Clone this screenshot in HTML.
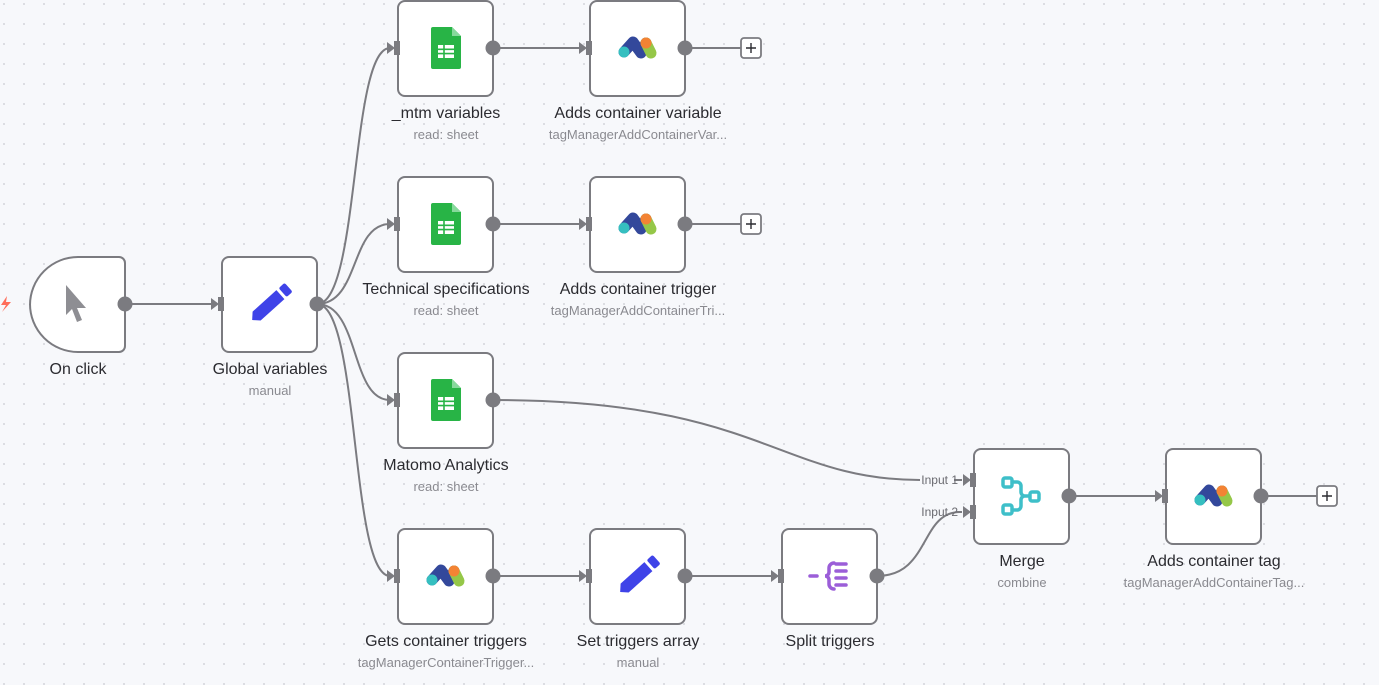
<!DOCTYPE html>
<html><head><meta charset="utf-8"><style>
html,body{margin:0;padding:0;background:#f7f8fb;}
svg{display:block;font-family:"Liberation Sans",Arial,sans-serif;}
.t{font-size:16px;fill:#2b2b30;text-anchor:middle;}
.s{font-size:13px;fill:#8a8a90;text-anchor:middle;}
.box{fill:#fff;stroke:#7b7b80;stroke-width:2;}
.e{fill:none;stroke:#7b7b80;stroke-width:2;}
.h{fill:#7b7b80;}
</style></head><body>
<svg width="1379" height="685" viewBox="0 0 1379 685">
<defs>
<pattern id="dots" width="20" height="20" patternUnits="userSpaceOnUse" x="3" y="3">
<circle cx="1" cy="1" r="1" fill="#d4d5db"/></pattern>
<g id="mat">
<path d="M-13,4 L-4,-6 L4,5 L9,-5" fill="none" stroke="#33489b" stroke-width="11" stroke-linecap="round" stroke-linejoin="round"/>
<path d="M9,-5 L14,5" fill="none" stroke="#95c748" stroke-width="11" stroke-linecap="round"/>
<circle cx="9" cy="-5" r="5.5" fill="#f38334"/>
<circle cx="-13" cy="4" r="5.5" fill="#35bfc0"/>
</g>
<g id="sheet">
<path d="M-15,-21 H6 L15,-12 V19 a2,2 0 0 1 -2,2 H-13 a2,2 0 0 1 -2,-2 V-19 a2,2 0 0 1 2,-2z" fill="#28b446"/>
<path d="M6,-21 L15,-12 H6z" fill="#87d99c"/>
<rect x="-8" y="-3" width="16" height="13" fill="#fff"/>
<path d="M-8,1.3 H8 M-8,5.6 H8 M-2,-3 V10" stroke="#28b446" stroke-width="1.6"/>
</g>
<g id="pencil">
<g transform="rotate(-42)">
<path d="M-24,0 L-18,-6 H14 V6 H-18 Z" fill="#3f43e8"/>
<rect x="17" y="-6" width="8" height="12" rx="2" fill="#3f43e8"/>
</g>
</g>
<g id="in"><path d="M-11,-6 L-3,0 L-11,6z" class="h"/><rect x="-4" y="-7" width="6" height="14" class="h"/></g>
</defs>
<rect width="1379" height="685" fill="#f7f8fb"/>
<rect width="1379" height="685" fill="url(#dots)"/>

<!-- edges -->
<path class="e" d="M125,304 H214"/>
<path class="e" d="M317,304 C360,304 350,48 390,48"/>
<path class="e" d="M317,304 C360,304 350,224 390,224"/>
<path class="e" d="M317,304 C360,304 350,400 390,400"/>
<path class="e" d="M317,304 C360,304 350,576 390,576"/>
<path class="e" d="M493,48 H582 M685,48 H741"/>
<path class="e" d="M493,224 H582 M685,224 H741"/>
<path class="e" d="M493,576 H582 M685,576 H774"/>
<path class="e" d="M493,400 C760,400 780,480 920,480"/>
<path class="e" d="M877,576 C930,576 920,512 960,512"/>
<path class="e" d="M954,480 H962 M956,512 H962"/>
<path class="e" d="M1069,496 H1158 M1261,496 H1317"/>

<!-- trigger bolt -->
<path d="M7,296 L1,305 H6 L2,312 L11,302 H6z" fill="#ff6d5a"/>

<!-- On click -->
<path class="box" d="M78,257 H119 a6,6 0 0 1 6,6 V346 a6,6 0 0 1 -6,6 H78 a48,48 0 0 1 -48,-48 V305 a48,48 0 0 1 48,-48z"/>
<path d="M66,285 L66,315 L72,309 L77,322 L82,320 L77,308 L86,308z" fill="#8e8e93"/>
<circle cx="125" cy="304" r="7.5" class="h"/>
<text class="t" x="78" y="374">On click</text>

<!-- Global variables -->
<rect class="box" x="222" y="257" width="95" height="95" rx="7"/>
<use href="#in" x="222" y="304"/>
<use href="#pencil" x="270" y="304"/>
<circle cx="317" cy="304" r="7.5" class="h"/>
<text class="t" x="270" y="374">Global variables</text>
<text class="s" x="270" y="395">manual</text>

<!-- col2 sheets -->
<rect class="box" x="398" y="1" width="95" height="95" rx="7"/>
<use href="#in" x="398" y="48"/><use href="#sheet" x="446" y="48"/>
<circle cx="493" cy="48" r="7.5" class="h"/>
<text class="t" x="446" y="118">_mtm variables</text>
<text class="s" x="446" y="139">read: sheet</text>

<rect class="box" x="398" y="177" width="95" height="95" rx="7"/>
<use href="#in" x="398" y="224"/><use href="#sheet" x="446" y="224"/>
<circle cx="493" cy="224" r="7.5" class="h"/>
<text class="t" x="446" y="294">Technical specifications</text>
<text class="s" x="446" y="315">read: sheet</text>

<rect class="box" x="398" y="353" width="95" height="95" rx="7"/>
<use href="#in" x="398" y="400"/><use href="#sheet" x="446" y="400"/>
<circle cx="493" cy="400" r="7.5" class="h"/>
<text class="t" x="446" y="470">Matomo Analytics</text>
<text class="s" x="446" y="491">read: sheet</text>

<rect class="box" x="398" y="529" width="95" height="95" rx="7"/>
<use href="#in" x="398" y="576"/><use href="#mat" x="445" y="576"/>
<circle cx="493" cy="576" r="7.5" class="h"/>
<text class="t" x="446" y="646">Gets container triggers</text>
<text class="s" x="446" y="667">tagManagerContainerTrigger...</text>

<!-- col3 -->
<rect class="box" x="590" y="1" width="95" height="95" rx="7"/>
<use href="#in" x="590" y="48"/><use href="#mat" x="637" y="48"/>
<circle cx="685" cy="48" r="7.5" class="h"/>
<text class="t" x="638" y="118">Adds container variable</text>
<text class="s" x="638" y="139">tagManagerAddContainerVar...</text>

<rect class="box" x="590" y="177" width="95" height="95" rx="7"/>
<use href="#in" x="590" y="224"/><use href="#mat" x="637" y="224"/>
<circle cx="685" cy="224" r="7.5" class="h"/>
<text class="t" x="638" y="294">Adds container trigger</text>
<text class="s" x="638" y="315">tagManagerAddContainerTri...</text>

<rect class="box" x="590" y="529" width="95" height="95" rx="7"/>
<use href="#in" x="590" y="576"/><use href="#pencil" x="638" y="576"/>
<circle cx="685" cy="576" r="7.5" class="h"/>
<text class="t" x="638" y="646">Set triggers array</text>
<text class="s" x="638" y="667">manual</text>

<!-- plus buttons -->
<g fill="#fff" stroke="#7b7b80" stroke-width="1.8">
<rect x="741" y="38" width="20" height="20" rx="3"/>
<rect x="741" y="214" width="20" height="20" rx="3"/>
<rect x="1317" y="486" width="20" height="20" rx="3"/>
</g>
<path d="M746,48 H756 M751,43 V53 M746,224 H756 M751,219 V229 M1322,496 H1332 M1327,491 V501" stroke="#2b2b30" stroke-width="1.4"/>

<!-- Split -->
<rect class="box" x="782" y="529" width="95" height="95" rx="7"/>
<use href="#in" x="782" y="576"/>
<g fill="none" stroke="#9b5ed8" stroke-width="3.5" stroke-linecap="round">
<path d="M810,576 H817"/>
<path d="M834,563 a5,5 0 0 0 -5,5 v4 a4,4 0 0 1 -4,4 a4,4 0 0 1 4,4 v4 a5,5 0 0 0 5,5"/>
<path d="M836,564 H846 M836,571 H846 M836,578 H846 M836,585 H846"/>
</g>
<circle cx="877" cy="576" r="7.5" class="h"/>
<text class="t" x="830" y="646">Split triggers</text>

<!-- Merge -->
<rect class="box" x="974" y="449" width="95" height="95" rx="7"/>
<use href="#in" x="974" y="480"/><use href="#in" x="974" y="512"/>
<text x="958" y="484" font-size="12" fill="#6a6a70" text-anchor="end">Input 1</text>
<text x="958" y="516" font-size="12" fill="#6a6a70" text-anchor="end">Input 2</text>
<g fill="none" stroke="#3ebfc9" stroke-width="3.5">
<rect x="1003" y="478" width="9" height="9" rx="2"/>
<rect x="1003" y="505" width="9" height="9" rx="2"/>
<rect x="1030" y="492" width="9" height="9" rx="2"/>
<path d="M1012,482 h5 a4,4 0 0 1 4,4 v6 a4,4 0 0 0 4,4 h5 M1012,510 h5 a4,4 0 0 0 4,-4 v-6 a4,4 0 0 1 4,-4"/>
</g>
<circle cx="1069" cy="496" r="7.5" class="h"/>
<text class="t" x="1022" y="566">Merge</text>
<text class="s" x="1022" y="587">combine</text>

<!-- Adds container tag -->
<rect class="box" x="1166" y="449" width="95" height="95" rx="7"/>
<use href="#in" x="1166" y="496"/><use href="#mat" x="1213" y="496"/>
<circle cx="1261" cy="496" r="7.5" class="h"/>
<text class="t" x="1214" y="566">Adds container tag</text>
<text class="s" x="1214" y="587">tagManagerAddContainerTag...</text>
</svg>
</body></html>
